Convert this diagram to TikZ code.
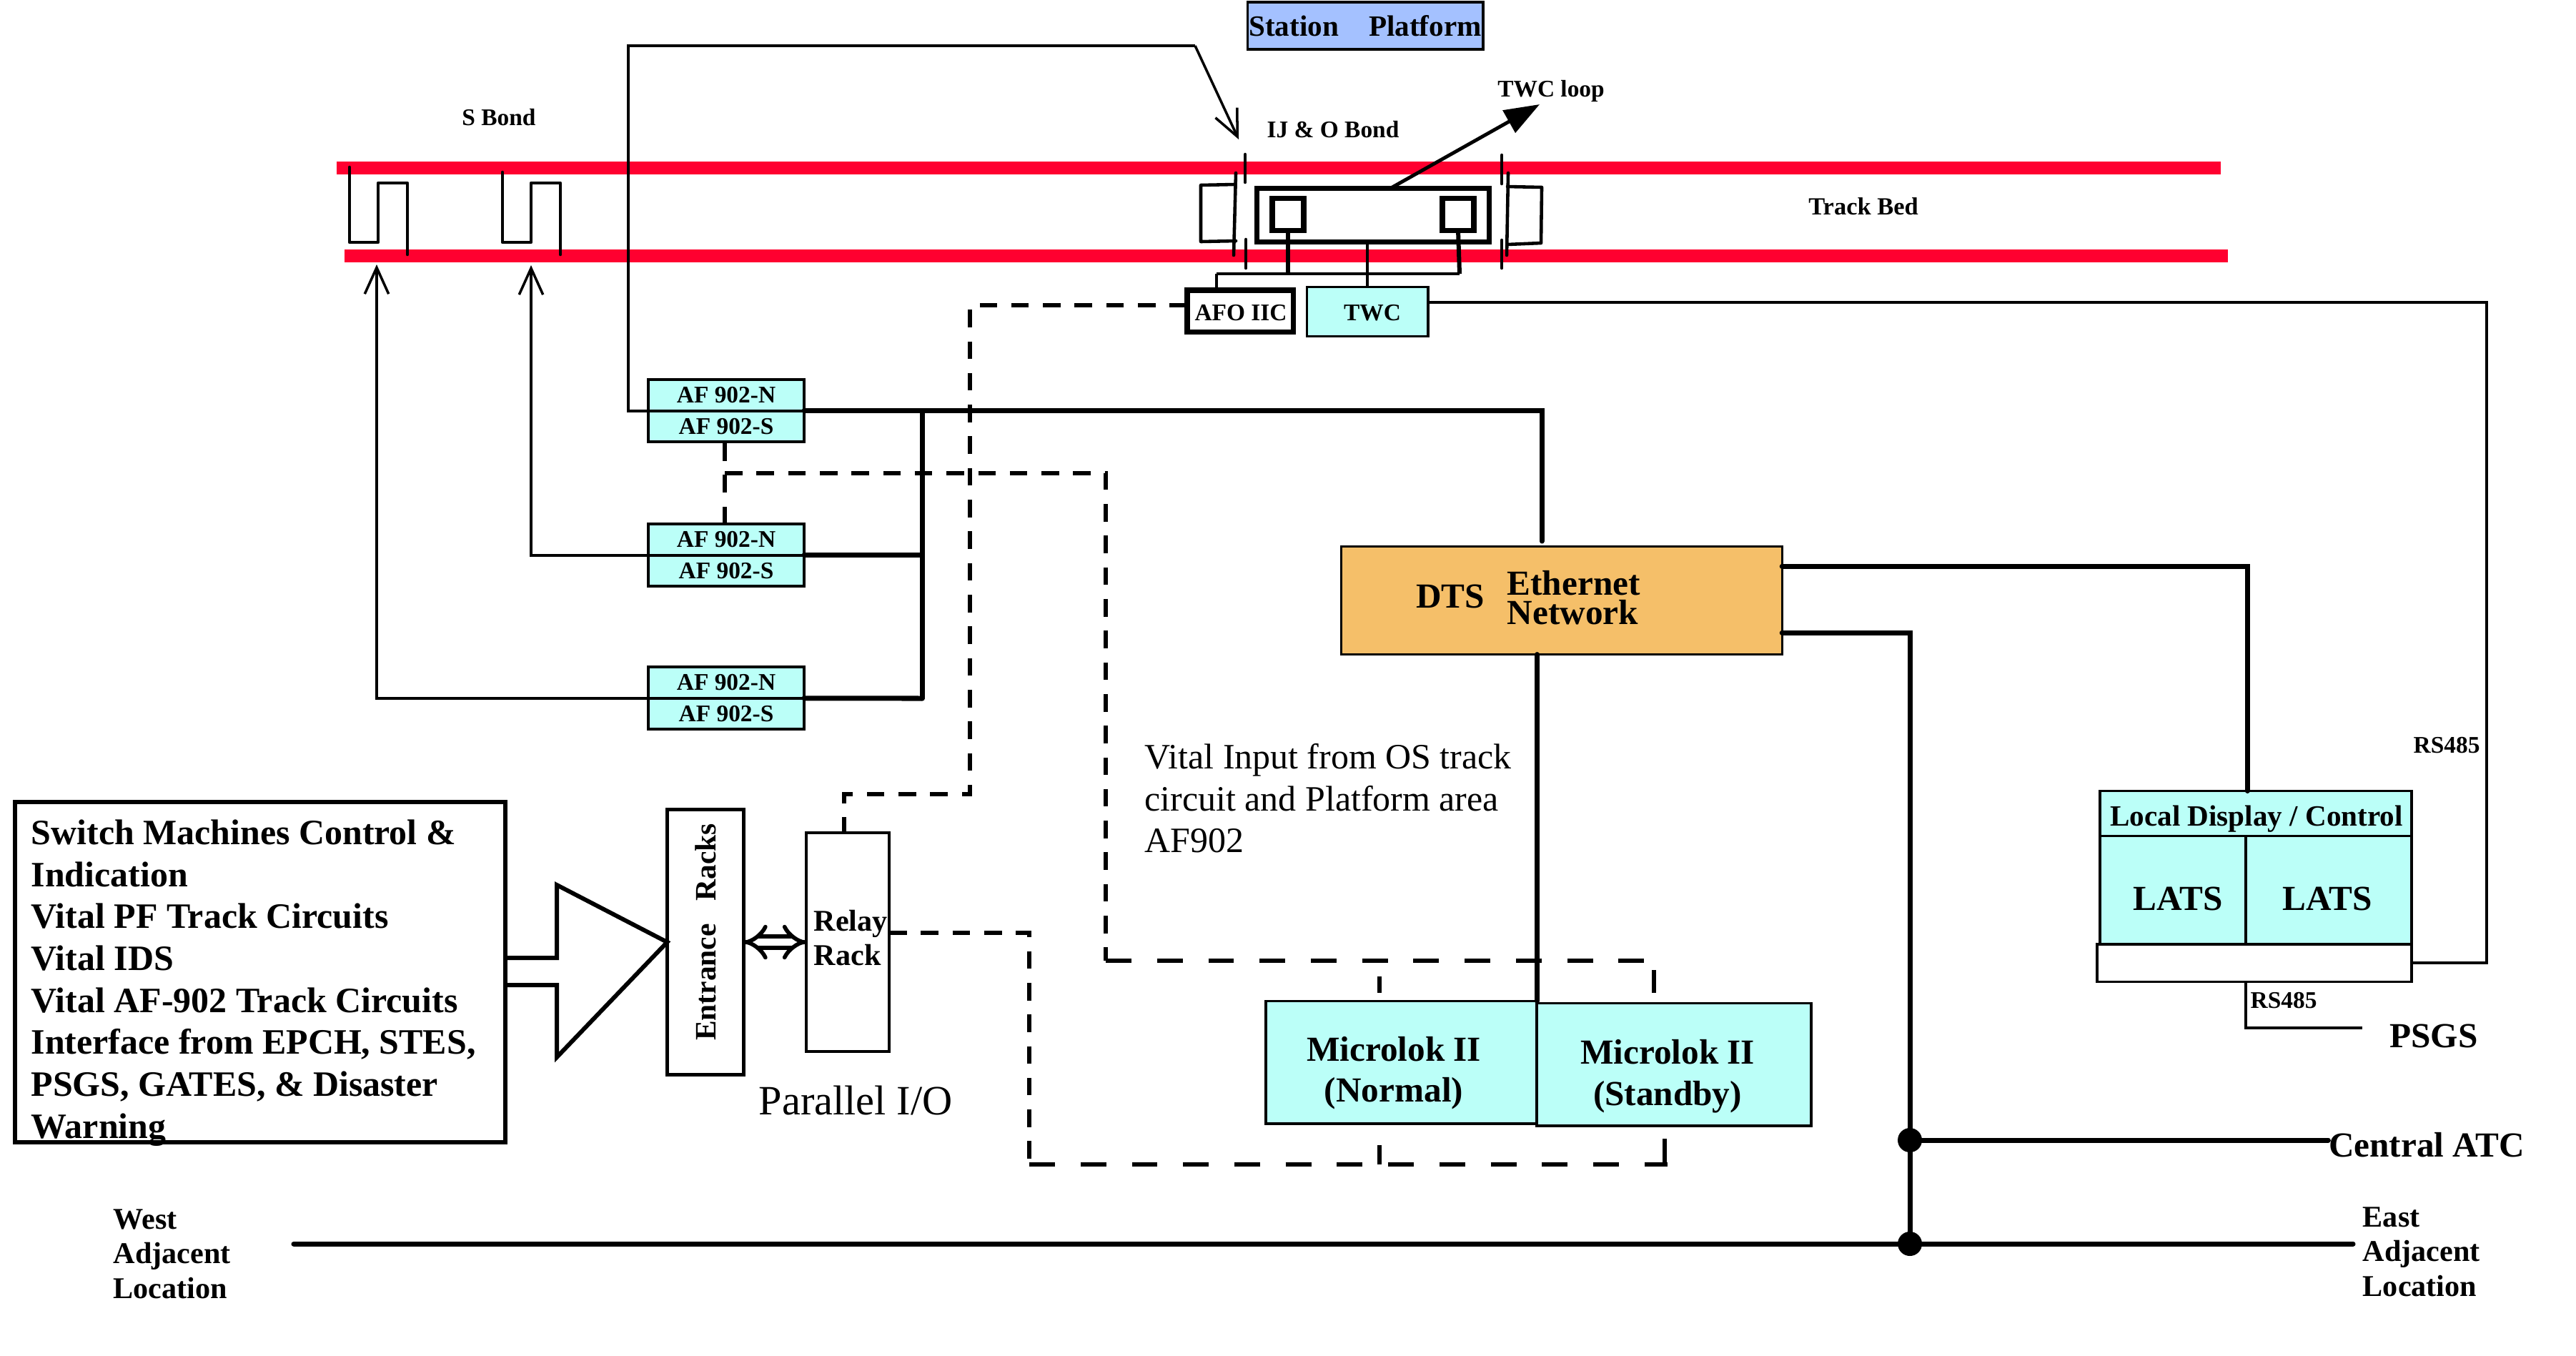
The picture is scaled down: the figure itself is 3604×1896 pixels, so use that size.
\documentclass[tikz,border=0pt]{standalone}
\usepackage{fontspec}
\setmainfont{Liberation Serif}
\usepackage{xcolor}
\usetikzlibrary{arrows.meta,positioning}
\definecolor{railred}{HTML}{FF0030}
\definecolor{boxcyan}{HTML}{BBFFF8}
\definecolor{dtsorange}{HTML}{F5BF69}
\definecolor{platblue}{HTML}{A4C1FF}
\tikzstyle{block} = [rectangle, draw, line width=1.1pt, inner sep=0pt, outer sep=0pt, align=center,
    font=\fontsize{14}{16.4}\selectfont\bfseries]
\tikzstyle{afbox} = [block, fill=boxcyan, minimum width=2.18cm, minimum height=0.435cm,
    font=\fontsize{9.5}{11}\selectfont\bfseries]
\tikzstyle{label} = [inner sep=0pt, align=left, font=\fontsize{12}{13.8}\selectfont\bfseries]
\tikzstyle{small} = [label, font=\fontsize{9.5}{11}\selectfont\bfseries]
\tikzstyle{big} = [label, align=center, font=\fontsize{14}{16.4}\selectfont\bfseries]
\tikzstyle{plain} = [inner sep=0pt, align=left, font=\fontsize{14.2}{16.6}\selectfont]
\tikzstyle{wire} = [draw, line width=1pt]
\tikzstyle{bus} = [draw, line width=2pt, line cap=round]
\tikzstyle{rail} = [draw=railred, line width=4.9pt]
\tikzstyle{bond} = [draw, line width=1.3pt, line cap=round, line join=round]
\tikzstyle{tick} = [draw, line width=1.3pt, line cap=round]
\tikzstyle{shortdash} = [draw, line width=1.9pt, dash pattern=on 7pt off 5.6pt]
\tikzstyle{longdash} = [draw, line width=1.8pt, dash pattern=on 10.2pt off 10.2pt]
\tikzstyle{dashtick} = [draw, line width=1.8pt]
\tikzstyle{barb} = [wire, -{Straight Barb[length=10.5pt,width=9.5pt]}]

\begin{document}
\begin{tikzpicture}[x=0.01cm,y=-0.01cm]
    \useasboundingbox (0,0) rectangle (3604,1896);

    % Rails
    \coordinate (railAw) at (471,235); \coordinate (railAe) at (3107,235);
    \coordinate (railBw) at (482,358); \coordinate (railBe) at (3117,358);
    \path [rail] (railAw) -- (railAe);
    \path [rail] (railBw) -- (railBe);

    % S bonds
    \foreach \x/\ytop in {0/234,214/241} {
        \path [bond] (489+\x,\ytop) -- (489+\x,339) -- (529+\x,339) -- (529+\x,256)
            -- (570+\x,256) -- (570+\x,356);
    }
    % IJ bonds
    \path [bond] (1729,242) -- (1726,357);
    \path [bond] (1727,258) -- (1680,259) -- (1680,338) -- (1729,337);
    \path [bond] (2110,242) -- (2108,357);
    \path [bond] (2109,261) -- (2157,262) -- (2156,340) -- (2109,342);
    \foreach \x/\ya/\yb in {1742/216/255,1743/335/375,2101/217/257,2101/336/375} {
        \path [tick] (\x,\ya) -- (\x,\yb);
    }

    % TWC loop
    \node [block, line width=2pt, minimum width=3.25cm, minimum height=0.75cm] (loop) at (1921,301) {};
    \node [block, line width=2.2pt, minimum width=0.44cm, minimum height=0.45cm] (sqL) at (1802,300) {};
    \node [block, line width=2.2pt, minimum width=0.44cm, minimum height=0.45cm] (sqR) at (2040,300) {};
    \node [small] (sbond) at (698,164) {S Bond};
    \node [small] (ijbond) at (1865,181) {IJ \& O Bond};
    \node [small] (twcloop) at (2170,127) {TWC loop};
    \node [small, font=\fontsize{9.8}{12}\selectfont\bfseries] (trackbed) at (2607,289) {Track Bed};
    \coordinate (loopStart) at (1946,263);
    \coordinate (loopTip) at (2154,146);
    \draw [line width=1.4pt, -{Triangle[length=14pt,width=10pt]}] (loopStart) -- (loopTip);

    % Platform and trackside boxes
    \node [block, fill=platblue, minimum width=3.29cm, minimum height=0.66cm,
        font=\fontsize{11.7}{14}\selectfont\bfseries] (platform) at (1910,36) {Station\hspace{12pt}Platform};
    \node [block, line width=2pt, minimum width=1.48cm, minimum height=0.58cm] (afo) at (1735,435) {};
    \node [small] (afotext) at (1736,438) {AFO IIC};
    \node [block, fill=boxcyan, minimum width=1.69cm, minimum height=0.69cm] (twc) at (1913,436) {};
    \node [small] (twctext) at (1920,438) {TWC};
    \coordinate (jctL) at (1802,383);
    \coordinate (jctR) at (2042,383);
    \coordinate (jctA) at (1702,383);
    \path [draw, line width=1.7pt] (sqL.south) -- (jctL);
    \path [draw, line width=1.7pt] (sqR.south) -- (jctR);
    \path [draw, line width=1.2pt] (jctA) -- (jctR);
    \path [draw, line width=1.2pt] (jctA) -- (jctA |- afo.north);
    \path [wire] (loop.south -| twc) -- (twc.north);

    % AF 902 receivers
    \foreach \n/\y in {a/553,b/755,c/955} {
        \node [afbox] (af\n n) at (1016,\y) {AF 902-N};
        \node [afbox] (af\n s) [below=0pt of af\n n] {AF 902-S};
    }

    % DTS and Microlok
    \node [block, fill=dtsorange, draw=black, line width=0.9pt, minimum width=6.16cm, minimum height=1.51cm] (dts) at (2185,840) {};
    \node [label, font=\fontsize{14}{11.8}\selectfont\bfseries] (dtsname) at (2029,834) {DTS};
    \node [label, font=\fontsize{14}{11.8}\selectfont\bfseries] (ethernet) [anchor=west] at (2108,836) {Ethernet\\Network};
    \node [block, fill=boxcyan, minimum width=3.79cm, minimum height=1.71cm] (mlkN) at (1961,1486) {};
    \node [block, fill=boxcyan, minimum width=3.83cm, minimum height=1.71cm] (mlkS) at (2342,1489) {};
    \node [big] (mlkNtext) at (1950,1501) {Microlok II\\(Normal)};
    \node [big] (mlkStext) at (2333,1506) {Microlok II\\(Standby)};
    \node [plain] (vital) [anchor=west] at (1601,1117) {Vital Input from OS track\\circuit and Platform area\\AF902};

    % Local display
    \node [block, fill=boxcyan, minimum width=4.36cm, minimum height=0.63cm] (local) at (3156,1138) {};
    \node [label, font=\fontsize{11.7}{14}\selectfont\bfseries] (localtext) at (3157,1146) {Local Display / Control};
    \node [block, fill=boxcyan, minimum width=2.04cm, minimum height=1.51cm] (latsA) at (3040,1245) {};
    \node [block, fill=boxcyan, minimum width=2.32cm, minimum height=1.51cm] (latsB) at (3258,1245) {};
    \node [big] (latsAtext) at (3047,1257) {LATS};
    \node [big] (latsBtext) at (3256,1257) {LATS};
    \node [block, minimum width=4.4cm, minimum height=0.53cm] (latsbase) at (3154,1347) {};
    \node [small] (rsA) at (3423,1043) {RS485};
    \node [small] (rsB) at (3195,1400) {RS485};
    \node [big] (psgs) at (3405,1449) {PSGS};
    \node [big] (catc) at (3395,1602) {Central ATC};
    \node [label] (east) [anchor=west] at (3305,1751) {East\\Adjacent\\Location};
    \node [label] (west) [anchor=west] at (158,1754) {West\\Adjacent\\Location};

    % Interlocking inputs
    \node [block, line width=1.7pt, minimum width=6.86cm, minimum height=4.75cm] (inputs) at (364,1360) {};
    \node [label, font=\fontsize{14.2}{16.7}\selectfont\bfseries] (inputtext) [anchor=west] at (43,1375)
        {Switch Machines Control \&\\Indication\\Vital PF Track Circuits\\Vital IDS\\Vital AF-902 Track Circuits\\Interface from EPCH, STES,\\PSGS, GATES, \& Disaster\\Warning};
    \node [block, line width=1.3pt, minimum width=1.07cm, minimum height=3.71cm] (entrance) at (987,1318) {};
    \node [label, rotate=90, font=\fontsize{11.8}{14}\selectfont\bfseries] (entrancetext) at (987,1304) {Entrance\hspace{9pt}Racks};
    \node [block, line width=1.2pt, minimum width=1.16cm, minimum height=3.06cm] (relay) at (1186,1318) {};
    \node [label] (relaytext) [anchor=west] at (1138,1312) {Relay\\Rack};
    \node [plain, font=\fontsize{16.6}{20}\selectfont] (parallel) at (1197,1539) {Parallel I/O};
    \path [draw, line width=1.7pt, line join=miter] (707,1340) -- (779,1340) -- (779,1238) -- (entrance.west)
        -- (779,1479) -- (779,1378) -- (707,1378);
    \draw [line width=1.6pt, double, double distance=3pt, {Implies}-{Implies}] (entrance.east) -- (entrance.east -| relay.west);

    % Thin links
    \coordinate (ijCorner) at (879,64);
    \coordinate (ijElbow) at (1672,64);
    \coordinate (ijTip) at (1733,195);
    \path [wire] (afas.north west) -- (afas.north west -| ijCorner) -- (ijCorner) -- (ijElbow);
    \path [barb] (ijElbow) -- (ijTip);
    \coordinate (sbA) at (527,370);
    \coordinate (sbB) at (743,371);
    \path [barb] (afcs.north west) -- (afcs.north west -| sbA) -- (sbA);
    \path [barb] (afbs.north west) -- (afbs.north west -| sbB) -- (sbB);
    \coordinate (rsRight) at (3479,423);
    \path [wire] (twc.east |- rsRight) -- (rsRight) -- (rsRight |- latsbase.east) -- (latsbase.east);
    \coordinate (psgsEnd) at (3305,1438);
    \path [wire] (latsbase.south -| latsA.east) -- (latsA.east |- psgsEnd) -- (psgsEnd);

    % Ethernet
    \coordinate (dtsIn) at (2157,757);
    \coordinate (busTop) at (1290,575);
    \coordinate (busBot) at (1290,977);
    \path [bus] (afas.north east) -- (afas.north east -| dtsIn) -- (dtsIn);
    \path [bus] (busTop) -- (busBot);
    \path [bus] (afbs.north east) -- (afbs.north east -| busTop);
    \path [bus] (afcs.north east) -- (busBot);
    \path [bus] (mlkN.north east) -- (mlkN.north east |- dts.south);
    \coordinate (dtsA) at (3144,792);
    \coordinate (dtsB) at (2672,885);
    \coordinate (nodeATC) at (2672,1595);
    \coordinate (nodeWE) at (2672,1740);
    \coordinate (lineW) at (411,1740);
    \coordinate (lineE) at (3292,1740);
    \path [bus] (dts.east |- dtsA) -- (dtsA) -- (local.north -| dtsA);
    \path [bus] (dts.east |- dtsB) -- (dtsB) -- (nodeWE);
    \path [bus] (nodeATC) -- (catc.west |- nodeATC);
    \path [bus] (lineW) -- (lineE);
    \foreach \p in {nodeATC,nodeWE} {
        \fill (\p) circle (17);
    }

    % Vital I/O wiring
    \coordinate (dashA) at (1357,427);
    \coordinate (dashB) at (1357,1111);
    \coordinate (dashC) at (1181,1111);
    \path [shortdash] (afo.west |- dashA) -- (dashA) -- (dashB) -- (dashC) -- (relay.north -| dashC);
    \coordinate (dashD) at (1014,662);
    \coordinate (dashE) at (1547,662);
    \coordinate (dashF) at (1547,1344);
    \coordinate (dashG) at (1930,1366);
    \coordinate (dashGb) at (1930,1389);
    \coordinate (dashH) at (2314,1344);
    \coordinate (dashHb) at (2314,1389);
    \coordinate (dashHt) at (2314,1357);
    \path [shortdash] (afbn.north -| dashD) -- (afas.south -| dashD);
    \path [shortdash] (dashD) -- (dashE) -- (dashF);
    \path [longdash] (dashF) -- (dashH);
    \path [dashtick] (dashG) -- (dashGb);
    \path [dashtick] (dashHt) -- (dashHb);
    \coordinate (dashJ) at (1440,1305);
    \coordinate (dashK) at (1440,1629);
    \coordinate (dashL) at (2333,1629);
    \coordinate (dashLb) at (2329,1593);
    \coordinate (dashM) at (1930,1629);
    \coordinate (dashMb) at (1930,1602);
    \path [shortdash] (relay.east |- dashJ) -- (dashJ) -- (dashK);
    \path [longdash] (dashK) -- (dashL);
    \path [dashtick] (dashM) -- (dashMb);
    \path [dashtick] (dashLb |- dashL) -- (dashLb);
\end{tikzpicture}
\end{document}
